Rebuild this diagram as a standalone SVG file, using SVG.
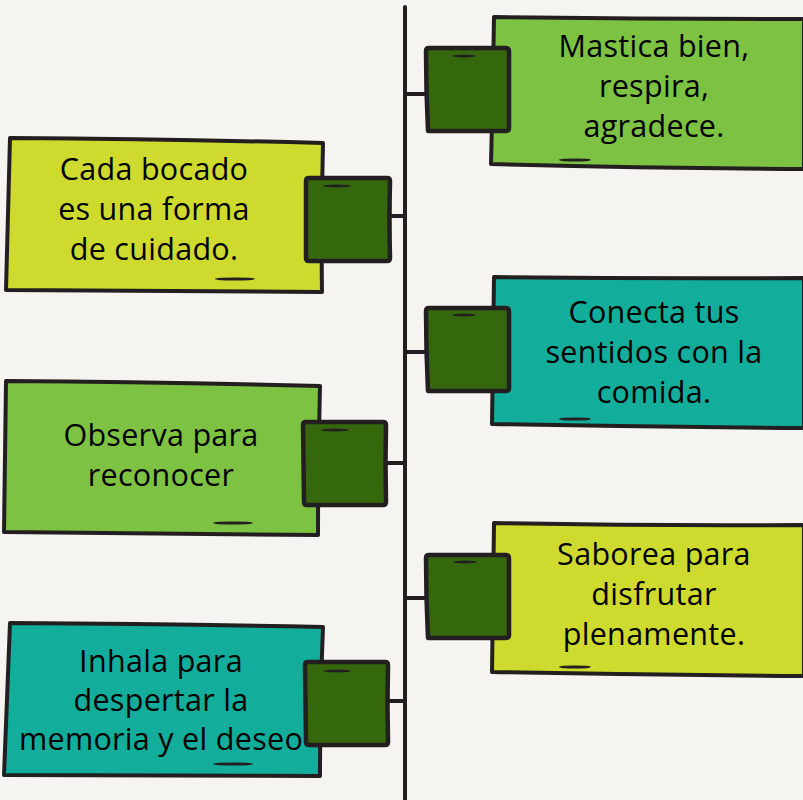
<svg xmlns="http://www.w3.org/2000/svg" width="803" height="800" viewBox="0 0 803 800">
<style>
.box{stroke:#231f20;stroke-width:4;stroke-linejoin:round}
.sq{fill:#35680d;stroke:#231f20;stroke-width:4.5;stroke-linejoin:round}
.lime{fill:#7dc242}
.yel{fill:#cedb2e}
.teal{fill:#12ad9b}
.dash{fill:#231f20}
.ln{stroke:#231f20;stroke-width:4;fill:none;stroke-linecap:round}
text{font-family:"Open Sans","Liberation Sans",sans-serif;font-size:30.5px;letter-spacing:0.3px;fill:#000;text-anchor:middle}
</style>
<rect width="803" height="800" fill="#f5f4f0"/>
<g id="connectors">
<path class="ln" d="M405,7 L405,800"/>
<path class="ln" d="M405,94 L426,94"/>
<path class="ln" d="M405,352 L426,352"/>
<path class="ln" d="M405,598 L426,598"/>
<path class="ln" d="M389,216 L405,216"/>
<path class="ln" d="M386,463 L405,463"/>
<path class="ln" d="M388,701 L405,701"/>
</g>
<g id="node1">
<path class="box lime" d="M494,17 Q650,19 804,19 L804,169 Q650,168 491,164 Q493,90 494,17 Z"/>
<path class="sq" d="M429,48 L506,48 Q509,48 509,52 L509,128 Q509,131 506,131 L428,131 Q426,90 426,51 Q426,48 429,48 Z"/>
<ellipse class="dash" cx="464" cy="56" rx="12" ry="1.4"/>
<ellipse class="dash" cx="575" cy="160" rx="16" ry="1.6"/>
<text x="654" y="57">Mastica bien,</text>
<text x="654" y="97">respira,</text>
<text x="654" y="137">agradece.</text>
</g>
<g id="node2">
<path class="box teal" d="M494,277 Q650,279 804,278 L804,428 Q650,427 492,424 Q493,350 494,277 Z"/>
<path class="sq" d="M429,308 L506,308 Q509,308 509,312 L509,388 Q509,391 506,391 L428,391 Q426,350 426,311 Q426,308 429,308 Z"/>
<ellipse class="dash" cx="464" cy="315" rx="12" ry="1.4"/>
<ellipse class="dash" cx="575" cy="419" rx="16" ry="1.6"/>
<text x="654" y="323">Conecta tus</text>
<text x="654" y="363">sentidos con la</text>
<text x="654" y="403">comida.</text>
</g>
<g id="node3">
<path class="box yel" d="M494,523 Q650,526 804,525 L804,676 Q650,675 492,672 Q493,597 494,523 Z"/>
<path class="sq" d="M429,555 L506,555 Q509,555 509,559 L509,635 Q509,638 506,638 L428,638 Q426,597 426,558 Q426,555 429,555 Z"/>
<ellipse class="dash" cx="465" cy="562" rx="12" ry="1.4"/>
<ellipse class="dash" cx="575" cy="667" rx="16" ry="1.6"/>
<text x="654" y="565">Saborea para</text>
<text x="654" y="605">disfrutar</text>
<text x="654" y="645">plenamente.</text>
</g>
<g id="node4">
<path class="box yel" d="M10,138 Q170,139 323,143 Q321,218 322,292 Q160,291 6,290 Q8,214 10,138 Z"/>
<path class="sq" d="M309,178 L387,178 Q390,178 390,181 Q389,220 390,258 Q390,261 387,261 L309,261 Q306,261 306,258 L306,181 Q306,178 309,178 Z"/>
<ellipse class="dash" cx="337" cy="186" rx="14" ry="1.4"/>
<ellipse class="dash" cx="235" cy="279" rx="20" ry="1.6"/>
<text x="154" y="180">Cada bocado</text>
<text x="154" y="220">es una forma</text>
<text x="154" y="260">de cuidado.</text>
</g>
<g id="node5">
<path class="box lime" d="M6,381 Q160,382 320,386 Q318,460 318,535 Q160,533 4,532 Q5,456 6,381 Z"/>
<path class="sq" d="M306,422 L383,422 Q386,422 386,425 Q385,463 386,502 Q386,505 383,505 L307,505 Q304,505 304,502 L303,425 Q303,422 306,422 Z"/>
<ellipse class="dash" cx="335" cy="430" rx="14" ry="1.4"/>
<ellipse class="dash" cx="233" cy="523" rx="20" ry="1.6"/>
<text x="161" y="446">Observa para</text>
<text x="161" y="486">reconocer</text>
</g>
<g id="node6">
<path class="box teal" d="M10,623 Q170,624 323,627 Q320,700 320,776 Q160,775 4,775 Q7,699 10,623 Z"/>
<path class="sq" d="M308,662 L385,662 Q388,662 388,665 Q387,704 388,742 Q388,745 385,745 L309,745 Q306,745 306,742 L305,665 Q305,662 308,662 Z"/>
<ellipse class="dash" cx="337" cy="671" rx="14" ry="1.4"/>
<ellipse class="dash" cx="233" cy="764" rx="20" ry="1.6"/>
<text x="161" y="672">Inhala para</text>
<text x="161" y="711">despertar la</text>
<text x="161" y="750">memoria y el deseo</text>
</g>
</svg>
